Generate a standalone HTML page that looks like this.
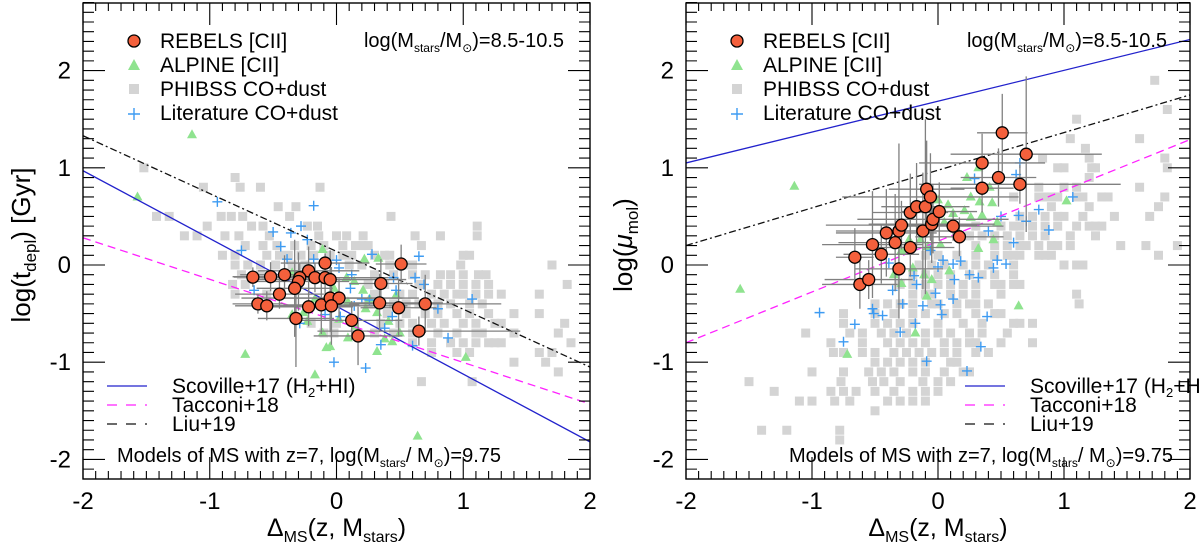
<!DOCTYPE html>
<html><head><meta charset="utf-8">
<style>
body{margin:0;background:#fff;}
svg{display:block;font-family:"Liberation Sans",sans-serif;}
</style></head>
<body>
<svg id="chart" width="1200" height="546" viewBox="0 0 1200 546"></svg>
<script>
// ---------- DATA ----------
const rebelsLeftX=[-0.66,-0.52,-0.41,-0.22,-0.29,-0.30,-0.17,-0.09,-0.09,-0.05,-0.33,-0.45,-0.62,-0.55,-0.22,-0.12,-0.05,0.02,-0.04,-0.32,0.12,0.17,0.35,0.34,0.49,0.51,0.65,0.70];
const rebelsLeftY=[-0.125,-0.12,-0.10,-0.06,-0.13,-0.17,-0.13,0.02,-0.13,-0.15,-0.24,-0.30,-0.40,-0.42,-0.43,-0.41,-0.34,-0.34,-0.42,-0.55,-0.57,-0.73,-0.19,-0.39,-0.44,0.01,-0.68,-0.40];
const rebelsRightX=[-0.66,-0.62,-0.55,-0.52,-0.45,-0.41,-0.34,-0.31,-0.31,-0.29,-0.22,-0.22,-0.17,-0.12,-0.10,-0.09,-0.06,-0.05,-0.04,0.01,0.12,0.17,0.35,0.35,0.48,0.51,0.65,0.70];
const rebelsRightY=[0.08,-0.20,-0.15,0.21,0.11,0.33,0.23,-0.04,0.35,0.41,0.54,0.18,0.60,0.35,0.60,0.78,0.70,0.42,0.47,0.55,0.40,0.29,0.79,1.05,0.90,1.36,0.83,1.14];
const rebelsXErr=[0.15,0.3,0.35,0.4,0.3,0.4,0.45,0.35,0.5,0.6,0.3,0.35,0.2,0.25,0.35,0.3,0.7,0.5,0.6,0.3,0.4,0.35,0.25,0.5,0.3,0.2,0.8,0.6];
const rebelsYErr=[0.1,0.15,0.2,0.25,0.15,0.3,0.15,0.1,0.25,0.3,0.5,0.15,0.1,0.15,0.2,0.3,0.35,0.2,0.4,0.5,0.2,0.3,0.25,0.3,0.3,0.2,0.15,0.3];
const rebelsRYErr=[0.3,0.25,0.2,0.55,0.3,0.45,0.5,0.2,0.9,0.25,0.4,0.3,0.45,0.6,0.9,0.5,0.45,0.4,0.35,0.3,0.15,0.2,0.25,0.3,0.3,0.4,0.2,0.8];

const alpineLeftX=[-1.14,-1.57,-0.72,-0.17,0.64,1.02,0.32,-0.11,0.22,0.33,-0.35,0.08,0.14,0.21,0.26,0.09,-0.02,-0.17,-0.26,-0.11,-0.08,-0.05,0.09,0.38,0.44,0.50,0.41,0.32,0.23,0.47,-0.23,-0.35,0.02,0.15];
const alpineLeftY=[1.34,0.70,-0.92,-1.13,-1.76,-0.95,-0.89,0.16,0.06,0.07,-0.08,-0.13,-0.17,-0.26,-0.35,-0.38,-0.24,-0.35,-0.49,-0.70,-0.85,-0.84,-0.75,-0.76,-0.79,-0.70,-0.58,-0.49,-0.45,-0.31,-0.58,-0.51,-0.56,-0.63];
const alpineRightX=[-1.14,-1.57,-0.72,-0.18,-0.09,0.64,1.02,0.32,0.23,0.41,0.26,0.33,0.43,0.0,0.08,0.12,0.21,0.26,0.35,0.47,0.44,0.32,0.05,-0.14,-0.23,-0.29,-0.35,-0.29,-0.2,-0.11,-0.05,0.09,0.02,-0.08];
const alpineRightY=[0.81,-0.25,-0.92,-0.70,-0.32,-0.42,0.66,1.00,0.90,0.80,0.70,0.65,0.64,0.67,0.62,0.53,0.56,0.49,0.51,0.44,0.26,0.17,0.44,0.26,0.26,0.15,-0.10,-0.19,-0.03,-0.10,-0.15,-0.06,0.21,0.19];

const litLeftX=[-0.94,-0.18,-0.5,-0.36,-0.28,-0.23,-0.44,-0.75,-0.39,-0.18,0,0.02,0.28,0.65,0.62,0.69,1.07,0.8,0.88,0.6,0.35,0.23,-0.02,0.38,0.44,0.47,0.45,0.12,0.11,0.2,0.26,0.03,0.14,-0.09,-0.29,-0.65];
const litLeftY=[0.65,0.61,0.34,0.33,0.40,0.26,0.19,0.15,0.06,0.06,0.05,-0.03,0.11,0.09,-0.13,-0.20,-0.35,-0.45,-0.75,-0.83,-0.82,-1.06,-1.0,-0.65,-0.53,-0.26,-0.13,-0.10,-0.24,-0.35,-0.36,-0.53,-0.42,-0.51,-0.60,-0.26];
const litRightX=[-0.94,-0.75,-0.66,-0.52,-0.51,-0.44,-0.36,-0.39,-0.28,-0.30,-0.19,-0.17,-0.18,-0.12,-0.09,-0.06,-0.02,0,0.02,0.03,0.04,0.13,0.12,0.12,0.18,0.23,0.25,0.32,0.34,0.39,0.40,0.44,0.47,0.50,0.54,0.6,0.64,0.7,0.8,0.88,1.07,0.62,0.65,0.29];
const litRightY=[-0.49,-0.79,-0.61,-0.45,-0.5,-0.52,-0.26,0.02,-0.40,-0.69,-0.11,-0.20,-0.60,-0.42,-0.99,0.15,-0.29,-0.02,-0.41,-0.51,0.05,-0.15,-0.35,0.01,0.04,-1.09,-0.10,-0.13,-0.84,-0.53,0.35,-0.03,0.05,0.50,0.01,0.23,0.51,0.45,0.57,0.36,0.70,0.93,1.05,0.89];

const phibssLeftRows=[1.0,0.9,0.8,0.6,0.5,0.4,0.3,0.2,0.1,0.0,-0.1,-0.2,-0.3,-0.4,-0.5,-0.6,-0.7,-0.8,-0.9,-1.0,-1.1,-1.2];
const phibssLeftCols=[
[-1.52],[-0.8],[-1.05,-0.76,-0.6,-0.13],[-0.46,-0.32],
[-1.42,-1.32,-0.91,-0.83,-0.74,-0.37,0.43],
[-1.02,-0.67,-0.58,-0.23,-0.15,1.11],
[-1.2,-1.1,-0.88,-0.77,-0.53,-0.14,0,0.08,0.21,0.62,0.82,1.11],
[-0.72,-0.58,-0.47,-0.33,-0.2,-0.1,0.05,0.15,0.2,0.25,0.67],
[-0.9,-0.8,-0.55,-0.45,-0.38,-0.28,-0.18,-0.05,0.05,0.12,0.3,0.38,0.42,1.0,1.05],
[-0.8,-0.7,-0.6,-0.48,-0.35,-0.25,0.1,0.2,0.42,0.55,0.6,0.98,1.7],
[-0.75,-0.6,-0.25,0.3,0.45,0.6,0.7,0.82,0.9,1.0,1.12,1.18],
[-0.82,-0.72,0.25,0.38,0.65,0.8,0.9,1.0,1.1,1.2,1.82],
[-0.8,-0.55,0.3,0.5,0.6,0.75,0.85,0.95,1.0,1.1,1.2,1.3,1.6],
[0.25,0.45,0.55,0.65,0.8,0.9,1.05,1.15],
[0.4,0.55,0.7,0.8,0.95,1.05,1.2,1.4,1.6],
[-0.2,0.0,0.35,0.5,0.6,0.75,0.85,1.0,1.1,1.25,1.3,1.8],
[-0.1,-0.02,0.3,0.45,0.6,0.8,0.95,1.1,1.15,1.4,1.75],
[0.6,0.75,0.9,1.0,1.1,1.2,1.25,1.3,1.85],
[0.75,0.95,1.05,1.6,1.7],[1.4,1.65],[1.75],[0.67,1.07]];
const phibssRightRows=[1.9,1.6,1.5,1.3,1.2,1.1,1.0,0.9,0.8,0.7,0.6,0.5,0.4,0.3,0.2,0.1,0.0,-0.1,-0.2,-0.3,-0.4,-0.5,-0.6,-0.7,-0.8,-0.9,-1.0,-1.1,-1.2,-1.3,-1.4,-1.5,-1.7,-1.8];
const phibssRightCols=[
[1.72],[1.82],[1.1],[1.05,1.6],[1.17],[0.83,1.2,1.8],[0.95,1.0,1.22,1.25,1.82],[1.2],
[0.8,1.0,1.1,1.6],[0.6,0.8,0.85,0.9,0.95,1.1,1.15,1.3,1.35,1.8],[0.9,1.2,1.75],
[0.65,0.75,0.85,0.95,1.0,1.15,1.4,1.68],
[0.3,0.5,0.6,0.65,0.75,0.85,0.95,1.1,1.2,1.25,1.3],
[0.25,0.35,0.45,0.55,0.65,0.75,0.85,1.05,1.25],
[0.3,0.45,0.55,0.65,0.7,0.8,0.9,0.95,1.05,1.45,1.65,1.9],
[-0.1,0,0.15,0.3,0.45,0.55,0.6,0.65,0.8,0.85,0.9,1.75],
[-0.15,-0.05,0.05,0.2,0.3,0.4,0.6,1.0,1.1,1.15],
[-0.2,-0.1,0.0,0.1,0.25,0.35,0.45,0.6],
[-0.3,-0.2,-0.1,0.0,0.1,0.2,0.3,0.45,0.5,0.6,0.65],
[-0.2,-0.1,-0.05,0.1,0.2,0.3,0.5,1.1],
[-0.5,-0.4,-0.3,-0.2,-0.05,0.0,0.15,0.25,0.3,0.4,1.12],
[-0.75,-0.5,-0.35,-0.2,-0.1,0.05,0.15,0.3,0.45,0.5],
[-0.75,-0.5,-0.4,-0.3,-0.2,0,0.2,0.35,0.6,0.65,0.75],
[-1.05,-0.7,-0.6,-0.45,-0.35,-0.25,-0.1,0.0,0.1,0.25,0.35,0.55],
[-0.85,-0.6,-0.4,-0.3,-0.2,-0.1,0.05,0.15,0.25,0.3,0.5,0.75],
[-0.83,-0.75,-0.6,-0.5,-0.35,-0.25,-0.15,-0.05,0.05,0.15,0.3,0.4],
[-0.5,-0.4,-0.3,-0.2,-0.1,0.1,0.15],
[-1.0,-0.75,-0.55,-0.45,-0.35,-0.2,-0.1,0.05,0.2,0.25],
[-1.5,-0.77,-0.52,-0.43,-0.3,-0.12,0.0,0.1],
[-1.3,-0.85,-0.75,-0.65,-0.5,-0.35,-0.2,-0.1,0.0],
[-1.1,-1.0,-0.82,-0.7,-0.4,-0.3,-0.2,-0.1],
[-0.5],[-1.4,-1.2,-0.78],[-0.78]];

const lineEndsX=[-2,2];
const scovilleLeft=[0.97,-1.82], tacconiLeft=[0.28,-1.43], liuLeft=[1.33,-1.05];
const scovilleRight=[1.05,2.32], tacconiRight=[-0.8,1.29], liuRight=[0.2,1.75];
const xTicks=[-2,-1,0,1,2];
const yTicks=[2,1,0,-1,-2];

// ---------- DRAW ----------
const NS="http://www.w3.org/2000/svg";
const svg=document.getElementById('chart');
function el(tag,attrs,parent){const e=document.createElementNS(NS,tag);for(const k in attrs)e.setAttribute(k,attrs[k]);(parent||svg).appendChild(e);return e;}

function panel(cfg){
  const g=el('g',{});
  
  
  const X=v=>cfg.x0+(v+2)*(cfg.x1-cfg.x0)/4;
  const Y=v=>265-97.2*v;
  const top=3,bot=479;
  const clipId=cfg.name+'-clip';
  const defs=el('defs',{},g);
  const cp=el('clipPath',{id:clipId},defs);
  el('rect',{x:cfg.x0,y:top,width:cfg.x1-cfg.x0,height:bot-top},cp);
  const plot=el('g',{'clip-path':'url(#'+clipId+')'},g);
  const sq=el('g',{},plot);
  
  
  cfg.rows.forEach((ry,i)=>cfg.cols[i].forEach(cx=>{
    const r=el('rect',{x:X(cx)-4.5,y:Y(ry)-4.5,width:9,height:9,fill:'#d4d4d4'},sq);
    
    
  }));
  const tg=el('g',{},plot);
  
  
  cfg.ax.forEach((v,i)=>{const x=X(v),y=Y(cfg.ay[i]);
    const t=el('polygon',{points:`${x},${y-5.5} ${x-5},${y+3.5} ${x+5},${y+3.5}`,fill:'#8fe38f'},tg);
    
    });
  const cg=el('g',{},plot);
  
  
  cfg.lx.forEach((v,i)=>{const x=X(v),y=Y(cfg.ly[i]);
    const p=el('path',{d:`M${x-5},${y}H${x+5}M${x},${y-5}V${y+5}`,stroke:'#3d9bf2','stroke-width':1.4},cg);
    
    });
  const L=(ys,color,dash,name)=>{const p=el('line',{x1:X(lineEndsX[0]),y1:Y(ys[0]),x2:X(lineEndsX[1]),y2:Y(ys[1]),stroke:color,'stroke-width':1.3,'stroke-dasharray':dash},plot);
    
    };
  L(cfg.sc,'#2222cc','','scoville-line');
  L(cfg.ta,'#ff22ff','8,5','tacconi-line');
  L(cfg.li,'#111','7,3,2,3','liu-line');
  const eg=el('g',{},plot);
  
  
  cfg.rx.forEach((v,i)=>{const x=X(v),y=Y(cfg.ry[i]);
    el('path',{d:`M${X(v-rebelsXErr[i])},${y}H${X(v+rebelsXErr[i])}M${x},${Y(cfg.ry[i]+cfg.ye[i])}V${Y(cfg.ry[i]-cfg.ye[i])}`,stroke:'#808080','stroke-width':1.3},eg);});
  const rg=el('g',{},plot);
  
  
  cfg.rx.forEach((v,i)=>{const c=el('circle',{cx:X(v),cy:Y(cfg.ry[i]),r:6,fill:'#f4603c',stroke:'#000','stroke-width':1.3},rg);
    
    });
  el('rect',{x:cfg.x0,y:top,width:cfg.x1-cfg.x0,height:bot-top,fill:'none',stroke:'#000','stroke-width':1.4},g);
  let d='';
  for(let k=-20;k<=20;k++){const v=k/10,x=X(v),len=(k%10===0)?22:8;
    d+=`M${x},${bot}v${-len}M${x},${top}v${len}`;}
  for(let k=-21;k<=27;k++){const v=k/10,y=Y(v),len=(k%10===0)?22:11;
    d+=`M${cfg.x0},${y}h${len}M${cfg.x1},${y}h${-len}`;}
  el('path',{d:d,stroke:'#000','stroke-width':1.1,fill:'none'},g);
  const xl=el('g',{},g);
  
  
  xTicks.forEach(v=>{const t=el('text',{x:X(v),y:509,'text-anchor':'middle','font-size':24},xl);t.textContent=v;});
  const yl=el('g',{},g);
  
  
  yTicks.forEach(v=>{const t=el('text',{x:cfg.x0-12,y:Y(v)+8,'text-anchor':'end','font-size':24},yl);t.textContent=v;});
  const xt=el('text',{x:X(0),y:536,'text-anchor':'middle','font-size':25},g);
  
  
  xt.innerHTML='Δ<tspan font-size="16" dy="6">MS</tspan><tspan dy="-6">(z, M</tspan><tspan font-size="16" dy="6">stars</tspan><tspan dy="-6">)</tspan>';
  const yt=el('text',{transform:`translate(${cfg.ytx},245) rotate(-90)`,'text-anchor':'middle','font-size':26},g);
  
  
  yt.innerHTML=cfg.ytitle;
  const lg=el('g',{'font-size':21},g);
  
  
  const mx=cfg.x0+51,tx=cfg.x0+77;
  el('circle',{cx:mx,cy:41,r:6,fill:'#f4603c',stroke:'#000','stroke-width':1.3},lg);
  el('polygon',{points:`${mx},${59} ${mx-6},${70} ${mx+6},${70}`,fill:'#8fe38f'},lg);
  el('rect',{x:mx-5,y:84,width:10,height:10,fill:'#d4d4d4'},lg);
  el('path',{d:`M${mx-6},${114}h12M${mx},${108}v12`,stroke:'#3d9bf2','stroke-width':1.4},lg);
  [['REBELS [CII]',48],['ALPINE [CII]',72],['PHIBSS CO+dust',96],['Literature CO+dust',120]].forEach(([s,y])=>{const t=el('text',{x:tx,y:y},lg);t.textContent=s;
    
    });
  const mr=el('text',{x:cfg.x0+481,y:47,'text-anchor':'end','font-size':20},g);
  
  
  mr.innerHTML='log(M<tspan font-size="12" dy="5">stars</tspan><tspan dy="-5">/M</tspan><tspan font-size="12" dy="5">⊙</tspan><tspan dy="-5">)=8.5-10.5</tspan>';
  const ll=el('g',{'font-size':21},g);
  
  
  const lx=cfg.llx;
  el('line',{x1:lx,y1:386,x2:lx+40,y2:386,stroke:'#2222cc','stroke-width':1.3},ll);
  el('line',{x1:lx,y1:405,x2:lx+40,y2:405,stroke:'#ff22ff','stroke-width':1.3,'stroke-dasharray':'10,9'},ll);
  el('line',{x1:lx,y1:424,x2:lx+40,y2:424,stroke:'#111','stroke-width':1.3,'stroke-dasharray':'10,9'},ll);
  const s1=el('text',{x:lx+65,y:393},ll);s1.innerHTML='Scoville+17 (H<tspan font-size="13" dy="4">2</tspan><tspan dy="-4">+HI)</tspan>';
  const s2=el('text',{x:lx+65,y:412},ll);s2.textContent='Tacconi+18';
  const s3=el('text',{x:lx+65,y:431},ll);s3.textContent='Liu+19';
  const mt=el('text',{x:cfg.mtx,y:462,'font-size':20},g);
  
  
  mt.innerHTML='Models of MS with z=7, log(M<tspan font-size="12" dy="5">stars</tspan><tspan dy="-5">/ M</tspan><tspan font-size="12" dy="5">⊙</tspan><tspan dy="-5">)=9.75</tspan>';
}
panel({name:'left-panel',x0:83,x1:590,rows:phibssLeftRows,cols:phibssLeftCols,ax:alpineLeftX,ay:alpineLeftY,lx:litLeftX,ly:litLeftY,
  rx:rebelsLeftX,ry:rebelsLeftY,ye:rebelsYErr,sc:scovilleLeft,ta:tacconiLeft,li:liuLeft,ytx:30,
  ytitle:'log(t<tspan font-size="17" dy="6">depl</tspan><tspan dy="-6">) [Gyr]</tspan>',llx:107,mtx:117});
panel({name:'right-panel',x0:686,x1:1190,rows:phibssRightRows,cols:phibssRightCols,ax:alpineRightX,ay:alpineRightY,lx:litRightX,ly:litRightY,
  rx:rebelsRightX,ry:rebelsRightY,ye:rebelsRYErr,sc:scovilleRight,ta:tacconiRight,li:liuRight,ytx:632,
  ytitle:'log(<tspan font-style="italic">μ</tspan><tspan font-size="17" dy="6">mol</tspan><tspan dy="-6">)</tspan>',llx:965,mtx:789});
</script>
</body></html>
